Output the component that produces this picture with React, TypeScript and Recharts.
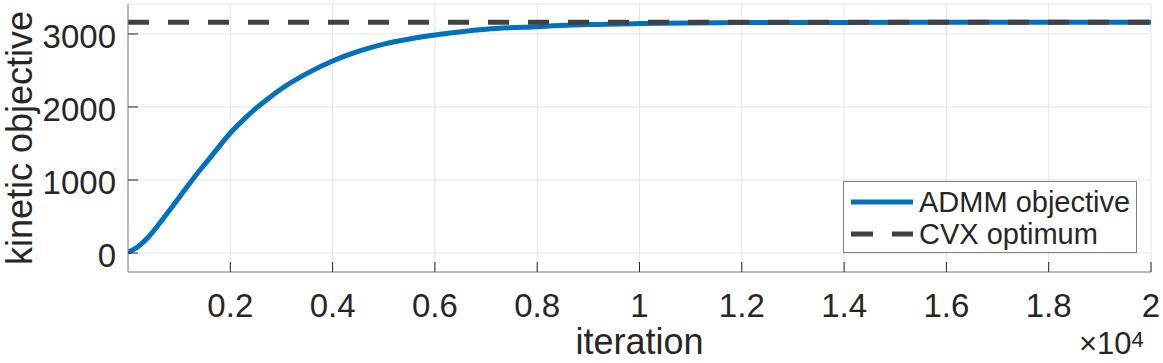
import React from 'react';
import { LineChart, Line, XAxis, YAxis, CartesianGrid, Legend } from 'recharts';

const iterations = [
  0, 200, 400, 600, 800, 1000, 1200, 1400, 1600, 1800, 2000, 2250, 2500, 2750, 3000, 3500, 4000,
  4500, 5000, 5500, 6000, 7000, 8000, 9000, 10000, 11000, 12000, 14000, 16000, 18000, 20000,
];
const admmObjective = [
  10, 90, 220, 390, 575, 760, 950, 1130, 1300, 1475, 1644, 1820, 1980, 2120, 2250, 2460, 2630,
  2760, 2860, 2930, 2985, 3065, 3100, 3128, 3142, 3150, 3155, 3158, 3160, 3160, 3160,
];
const cvxOptimum = 3160;

const xTicks = [2000, 4000, 6000, 8000, 10000, 12000, 14000, 16000, 18000, 20000];
const yTicks = [0, 1000, 2000, 3000];

const data = iterations.map((it, i) => ({ it, admm: admmObjective[i], cvx: cvxOptimum }));

const FONT = '"Liberation Sans", Arial, Helvetica, sans-serif';
const TEXT = '#262626';
const BOX = '#808080';
const TICK_LEN = 10;

const BottomTick = (props: any) => {
  const { x, y, payload } = props;
  return (
    <g>
      <line x1={x} y1={y} x2={x} y2={y - TICK_LEN} stroke={TEXT} strokeWidth={1} />
      <text x={x} y={y + 45} textAnchor="middle" fill={TEXT} fontSize={33} fontFamily={FONT}>
        {String(payload.value / 10000)}
      </text>
    </g>
  );
};

const TopTick = (props: any) => {
  const { x, y } = props;
  return <line x1={x} y1={y} x2={x} y2={y + TICK_LEN} stroke={TEXT} strokeWidth={1} />;
};

const LeftTick = (props: any) => {
  const { x, y, payload } = props;
  return (
    <g>
      <line x1={x} y1={y} x2={x + TICK_LEN} y2={y} stroke={TEXT} strokeWidth={1} />
      <text x={x - 12} y={y + 14} textAnchor="end" fill={TEXT} fontSize={33} fontFamily={FONT}>
        {payload.value}
      </text>
    </g>
  );
};

const RightTick = (props: any) => {
  const { x, y } = props;
  return <line x1={x} y1={y} x2={x - TICK_LEN} y2={y} stroke={TEXT} strokeWidth={1} />;
};

const LegendBox = () => (
  <div
    style={{
      width: 292,
      height: 70,
      border: `1px solid ${BOX}`,
      background: '#fff',
      position: 'relative',
    }}
  >
    <svg width={292} height={70} style={{ position: 'absolute', left: 0, top: 0 }}>
      <line x1={7} y1={20} x2={69} y2={20} stroke="#0072BD" strokeWidth={5} />
      <line x1={7} y1={52} x2={69} y2={52} stroke="#404040" strokeWidth={5} strokeDasharray="22 19" />
      <text x={75} y={30} fontSize={29} fontFamily={FONT} fill={TEXT}>ADMM objective</text>
      <text x={75} y={62} fontSize={29} fontFamily={FONT} fill={TEXT}>CVX optimum</text>
    </svg>
  </div>
);

export default function App() {
  return (
    <div style={{ position: 'relative', width: 1163, height: 363, background: '#fff' }}>
      <style>{'body{margin:0}'}</style>
      <LineChart width={1163} height={363} data={data} margin={{ top: 4, right: 12, left: 0, bottom: 0 }}>
        <CartesianGrid xAxisId="bottom" yAxisId="left" stroke="#e4e4e4" strokeWidth={1} />
        <XAxis
          xAxisId="bottom"
          dataKey="it"
          type="number"
          domain={[0, 20000]}
          ticks={xTicks}
          allowDataOverflow
          height={91}
          tickSize={0}
          tickMargin={0}
          tickLine={false}
          axisLine={{ stroke: BOX, strokeWidth: 1 }}
          tick={<BottomTick />}
          interval={0}
        />
        <XAxis
          xAxisId="top"
          orientation="top"
          dataKey="it"
          type="number"
          domain={[0, 20000]}
          ticks={xTicks}
          allowDataOverflow
          height={0}
          tickSize={0}
          tickMargin={0}
          tickLine={false}
          axisLine={{ stroke: BOX, strokeWidth: 1 }}
          tick={<TopTick />}
          interval={0}
        />
        <YAxis
          yAxisId="left"
          type="number"
          domain={[-260, 3410]}
          ticks={yTicks}
          allowDataOverflow
          width={128}
          tickSize={0}
          tickMargin={0}
          tickLine={false}
          axisLine={{ stroke: BOX, strokeWidth: 1 }}
          tick={<LeftTick />}
          interval={0}
          label={{
            value: 'kinetic objective',
            angle: -90,
            position: 'insideLeft',
            offset: 0,
            dx: 19,
            style: { fontSize: 36, fontFamily: FONT, fill: TEXT, textAnchor: 'middle' },
          }}
        />
        <YAxis
          yAxisId="right"
          orientation="right"
          type="number"
          domain={[-260, 3410]}
          ticks={yTicks}
          allowDataOverflow
          width={0}
          tickSize={0}
          tickMargin={0}
          tickLine={false}
          axisLine={{ stroke: BOX, strokeWidth: 1 }}
          tick={<RightTick />}
          interval={0}
        />
        <Line
          xAxisId="bottom"
          yAxisId="left"
          type="monotone"
          dataKey="admm"
          name="ADMM objective"
          stroke="#0072BD"
          strokeWidth={5}
          dot={false}
          isAnimationActive={false}
        />
        <Line
          xAxisId="bottom"
          yAxisId="left"
          type="linear"
          dataKey="cvx"
          name="CVX optimum"
          stroke="#404040"
          strokeWidth={5}
          strokeDasharray="21 19"
          dot={false}
          isAnimationActive={false}
        />
        <Legend
          layout="vertical"
          align="center"
          verticalAlign="middle"
          content={<LegendBox />}
          wrapperStyle={{ left: 843, top: 181, width: 294, height: 72 }}
        />
      </LineChart>
      <div
        style={{
          position: 'absolute',
          left: 0,
          width: 1163,
          top: 321,
          textAlign: 'center',
          paddingLeft: 128 - 12,
          boxSizing: 'border-box',
          fontFamily: FONT,
          fontSize: 36,
          color: TEXT,
          lineHeight: '42px',
        }}
      >
        iteration
      </div>
      <div
        style={{
          position: 'absolute',
          left: 1079,
          top: 326,
          fontFamily: FONT,
          fontSize: 31,
          color: TEXT,
          lineHeight: '36px',
          whiteSpace: 'nowrap',
        }}
      >
        ×10<sup style={{ fontSize: 22, verticalAlign: 'top', position: 'relative', top: -4 }}>4</sup>
      </div>
    </div>
  );
}
